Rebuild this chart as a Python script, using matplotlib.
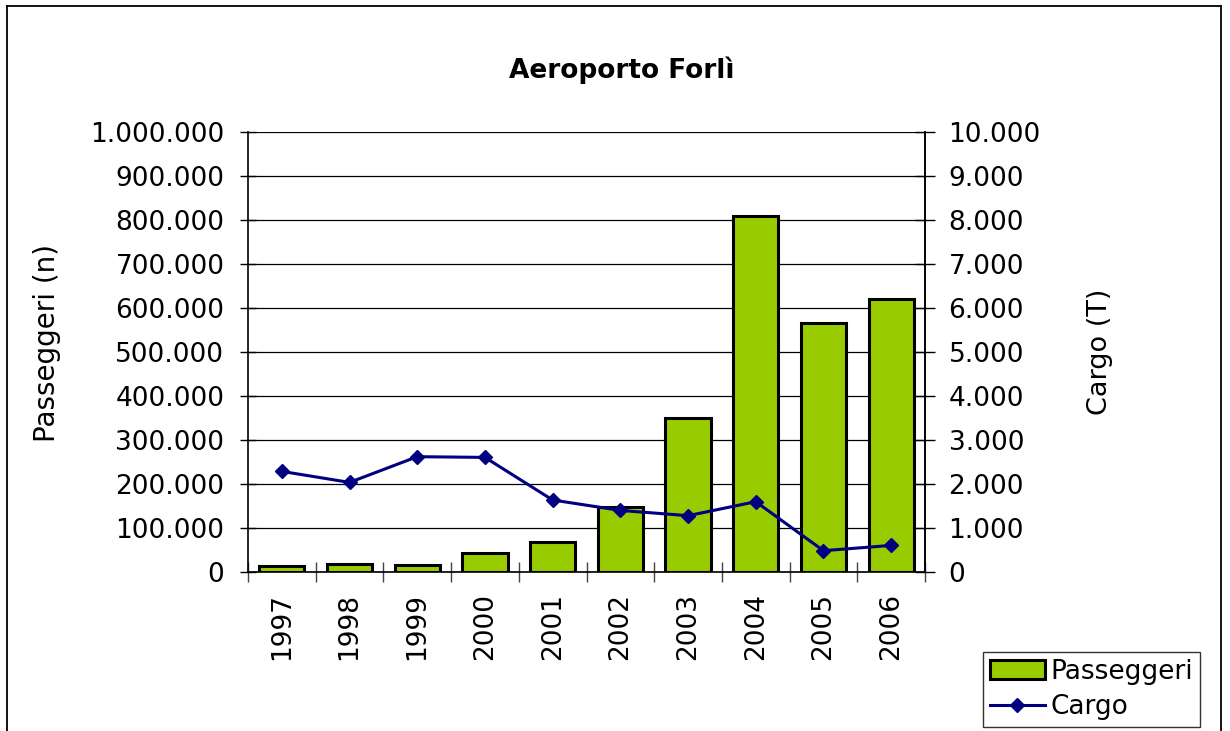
import matplotlib.pyplot as plt
import numpy as np
from matplotlib.lines import Line2D
from matplotlib.ticker import FuncFormatter, FixedLocator

plt.rcParams['font.family'] = ['DejaVu Sans']

anni = ["1997", "1998", "1999", "2000", "2001", "2002", "2003", "2004", "2005", "2006"]
passeggeri = [14300, 19000, 16600, 43800, 68900, 147000, 350000, 808500, 566000, 621000]
cargo = [2285, 2035, 2619, 2603, 1635, 1399, 1279, 1597, 484, 604]


def punti(v, pos):
    # separatore delle migliaia all'italiana
    return f"{int(v):,}".replace(",", ".")


fig = plt.figure(figsize=(12.3, 7.31), dpi=100)
ax = fig.add_axes([248 / 1230, 1 - 572 / 731, (925 - 248) / 1230, (572 - 131.7) / 731])
ax2 = ax.twinx()

x = np.arange(len(anni))
barre = ax.bar(x, passeggeri, width=0.667, color="#99CC00", edgecolor="black",
               linewidth=2.2, zorder=3, label="Passeggeri")
linea, = ax2.plot(x, cargo, color="#000080", marker="D", markersize=7.5,
                  linewidth=2.2, zorder=4, label="Cargo")

ax.set_xlim(-0.5, len(anni) - 0.5)
ax.set_ylim(0, 1000000)
ax2.set_ylim(0, 10000)
ax.set_yticks(np.arange(0, 1000001, 100000))
ax2.set_yticks(np.arange(0, 10001, 1000))
ax.yaxis.set_major_formatter(FuncFormatter(punti))
ax2.yaxis.set_major_formatter(FuncFormatter(punti))

ax.grid(axis="y", color="black", linewidth=0.9, zorder=0)
ax.set_axisbelow(True)

# tacche sui confini delle categorie, etichette al centro
ax.xaxis.set_major_locator(FixedLocator(np.arange(-0.5, len(anni), 1.0)))
ax.xaxis.set_minor_locator(FixedLocator(x))
ax.set_xticklabels([], minor=False)
ax.set_xticklabels(anni, minor=True, rotation=90, fontsize=19)
ax.tick_params(axis="x", which="major", direction="inout", length=14, width=1, color="#444444")
ax.tick_params(axis="x", which="minor", length=0, pad=15)

ax.tick_params(axis="y", direction="inout", length=12, width=1, labelsize=19, pad=11)
ax2.tick_params(axis="y", direction="inout", length=14, width=1, labelsize=19, pad=10)

for a in (ax, ax2):
    a.spines["top"].set_visible(False)
    for s in ("left", "right", "bottom"):
        a.spines[s].set_linewidth(1.2)
ax2.spines["left"].set_visible(False)
ax2.spines["bottom"].set_visible(False)

fig.text(622 / 1230, 1 - 70 / 731, "Aeroporto Forlì", ha="center", va="center",
         fontsize=19, fontweight="bold")
fig.text(47 / 1230, 1 - 343 / 731, "Passeggeri (n)", rotation=90, ha="center",
         va="center", fontsize=20)
fig.text(1100 / 1230, 1 - 352 / 731, "Cargo (T)", rotation=90, ha="center",
         va="center", fontsize=19.5)

leg = fig.legend([barre, linea], ["Passeggeri", "Cargo"], loc="lower left",
                 bbox_to_anchor=(983 / 1230, 1 - 727 / 731), fontsize=19,
                 frameon=True, fancybox=False, borderpad=0.25, handlelength=2.1,
                 handletextpad=0.2, labelspacing=0.36, borderaxespad=0)
leg.get_frame().set_edgecolor("black")
leg.get_frame().set_linewidth(1)

# cornice della figura (il bordo inferiore resta fuori)
for xs, ys in (([7 / 1230, 7 / 1230], [0, 1 - 6 / 731]),
               ([7 / 1230, 1221 / 1230], [1 - 6 / 731, 1 - 6 / 731]),
               ([1221 / 1230, 1221 / 1230], [0, 1 - 6 / 731])):
    fig.add_artist(Line2D(xs, ys, color="black", linewidth=1.3, transform=fig.transFigure))

fig.savefig("out.png", dpi=100)
